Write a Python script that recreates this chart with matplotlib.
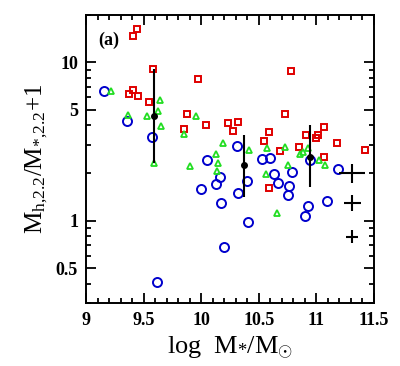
import matplotlib
matplotlib.use("Agg")
import matplotlib.pyplot as plt
from matplotlib.ticker import FixedLocator, NullFormatter, FixedFormatter

plt.rcParams['font.family'] = ['Liberation Serif', 'DejaVu Serif']
plt.rcParams['mathtext.fontset'] = 'custom'
plt.rcParams['mathtext.rm'] = 'Liberation Serif'
plt.rcParams['mathtext.it'] = 'Liberation Serif:italic'

# red squares
red_x = [9.402, 9.437, 9.581, 9.967, 10.781, 9.372, 9.407, 9.445, 9.543, 9.874,
         9.850, 10.039, 10.235, 10.322, 10.271, 10.726, 10.583, 10.543, 10.687, 10.850,
         10.909, 11.011, 10.993, 11.065, 11.176, 11.422, 11.068, 10.584]
red_y = [14.76, 16.2, 9.12, 7.84, 8.86, 6.34, 6.72, 6.09, 5.64, 4.69,
         3.80, 3.99, 4.12, 4.22, 3.67, 4.69, 3.62, 3.18, 2.75, 2.90,
         3.46, 3.46, 3.31, 3.88, 3.09, 2.81, 2.53, 1.60]

# blue circles
blue_x = [9.150, 9.357, 9.572, 9.610, 10.311, 10.050, 10.163, 10.126, 9.994, 10.171,
          10.322, 10.398, 10.407, 10.193, 10.523, 10.597, 10.630, 10.667, 10.789, 10.759,
          10.750, 10.948, 11.185, 11.090, 10.929, 10.897]
blue_y = [6.62, 4.28, 3.37, 0.407, 2.95, 2.42, 1.88, 1.70, 1.58, 1.29,
          1.50, 1.79, 0.98, 0.68, 2.46, 2.48, 1.98, 1.74, 2.04, 1.65,
          1.46, 2.43, 2.13, 1.34, 1.24, 1.07]

# green triangles
green_x = [9.210, 9.365, 9.526, 9.643, 9.626, 9.650, 9.955, 9.845, 10.191, 10.126,
           10.145, 10.132, 9.902, 9.584, 10.415, 10.572, 10.723, 10.750, 10.561, 10.661,
           10.854, 10.887, 10.922, 11.022, 11.070]
green_y = [6.60, 4.67, 4.60, 5.81, 4.92, 3.96, 4.60, 3.50, 3.08, 2.64,
           2.31, 2.07, 2.20, 2.32, 2.81, 2.86, 2.91, 2.24, 1.98, 1.11,
           2.64, 2.73, 2.89, 2.42, 2.23]

# binned means with scatter
bin_x = [9.590, 10.374, 10.946]
bin_y = [4.55, 2.23, 2.54]
bin_lo = [2.31, 1.40, 1.62]
bin_hi = [9.03, 3.45, 3.99]

# typical error crosses
cross_x = [11.309, 11.309, 11.309]
cross_y = [1.99, 1.30, 0.79]
cross_xerr = [0.109, 0.074, 0.052]
cross_yerr_dex = [0.060, 0.051, 0.041]

fig = plt.figure(figsize=(4.0, 3.66), dpi=100)
ax = fig.add_axes([0.216, 0.171, 0.719, 0.789])

ax.plot(red_x, red_y, 's', ms=5.0, mfc='none', mec='#e00000', mew=1.4)
ax.plot(blue_x, blue_y, 'o', ms=6.5, mfc='none', mec='#0000cc', mew=1.4)
ax.plot(green_x, green_y, '^', ms=5.0, mfc='none', mec='#22dd22', mew=1.3)

for x, y, lo, hi in zip(bin_x, bin_y, bin_lo, bin_hi):
    ax.errorbar([x], [y], yerr=[[y - lo], [hi - y]], fmt='o', color='black',
                ms=4, lw=1.5, capsize=0)

for x, y, xe, ye in zip(cross_x, cross_y, cross_xerr, cross_yerr_dex):
    lo = y - y / 10 ** ye
    hi = y * 10 ** ye - y
    ax.errorbar([x], [y], xerr=[xe], yerr=[[lo], [hi]], fmt='none',
                ecolor='black', lw=1.5, capsize=0)

ax.set_xscale('linear')
ax.set_yscale('log')
ax.set_xlim(9, 11.5)
ax.set_ylim(0.3, 20)

xt = [9, 9.5, 10, 10.5, 11, 11.5]
xt_labels = ['9', '9.5', '10', '10.5', '11', '11.5']
ax.xaxis.set_major_locator(FixedLocator(xt))
ax.xaxis.set_major_formatter(FixedFormatter(xt_labels))
ax.xaxis.set_minor_locator(FixedLocator([9 + 0.1 * i for i in range(26)]))

yt = [0.5, 1, 5, 10]
yt_labels = ['0.5', '1', '5', '10']
ax.yaxis.set_major_locator(FixedLocator(yt))
ax.yaxis.set_major_formatter(FixedFormatter(yt_labels))
ymin = [0.3, 0.4, 0.6, 0.7, 0.8, 0.9, 2, 3, 4, 6, 7, 8, 9, 20]
ax.yaxis.set_minor_locator(FixedLocator(ymin))
ax.yaxis.set_minor_formatter(NullFormatter())

ax.tick_params(which='both', direction='in', top=True, right=True, width=1.3)
ax.tick_params(which='major', length=7, labelsize=13, pad=6)
ax.tick_params(which='minor', length=3.6)
for lab in ax.get_xticklabels() + ax.get_yticklabels():
    lab.set_fontweight('bold')
for s in ax.spines.values():
    s.set_linewidth(1.4)

ax.set_xlabel(r'$\mathrm{log\ \ M_{*}/M_{\odot}}$', fontsize=19, labelpad=4)
ax.set_ylabel(r'$\mathrm{M_{h{,}2.2}/M_{*{,}2.2}}$+1', fontsize=18, labelpad=4)
ax.text(0.04, 0.912, '(a)', transform=ax.transAxes, fontsize=13,
        fontweight='bold', ha='left', va='center')

fig.savefig('out.png', dpi=100)
